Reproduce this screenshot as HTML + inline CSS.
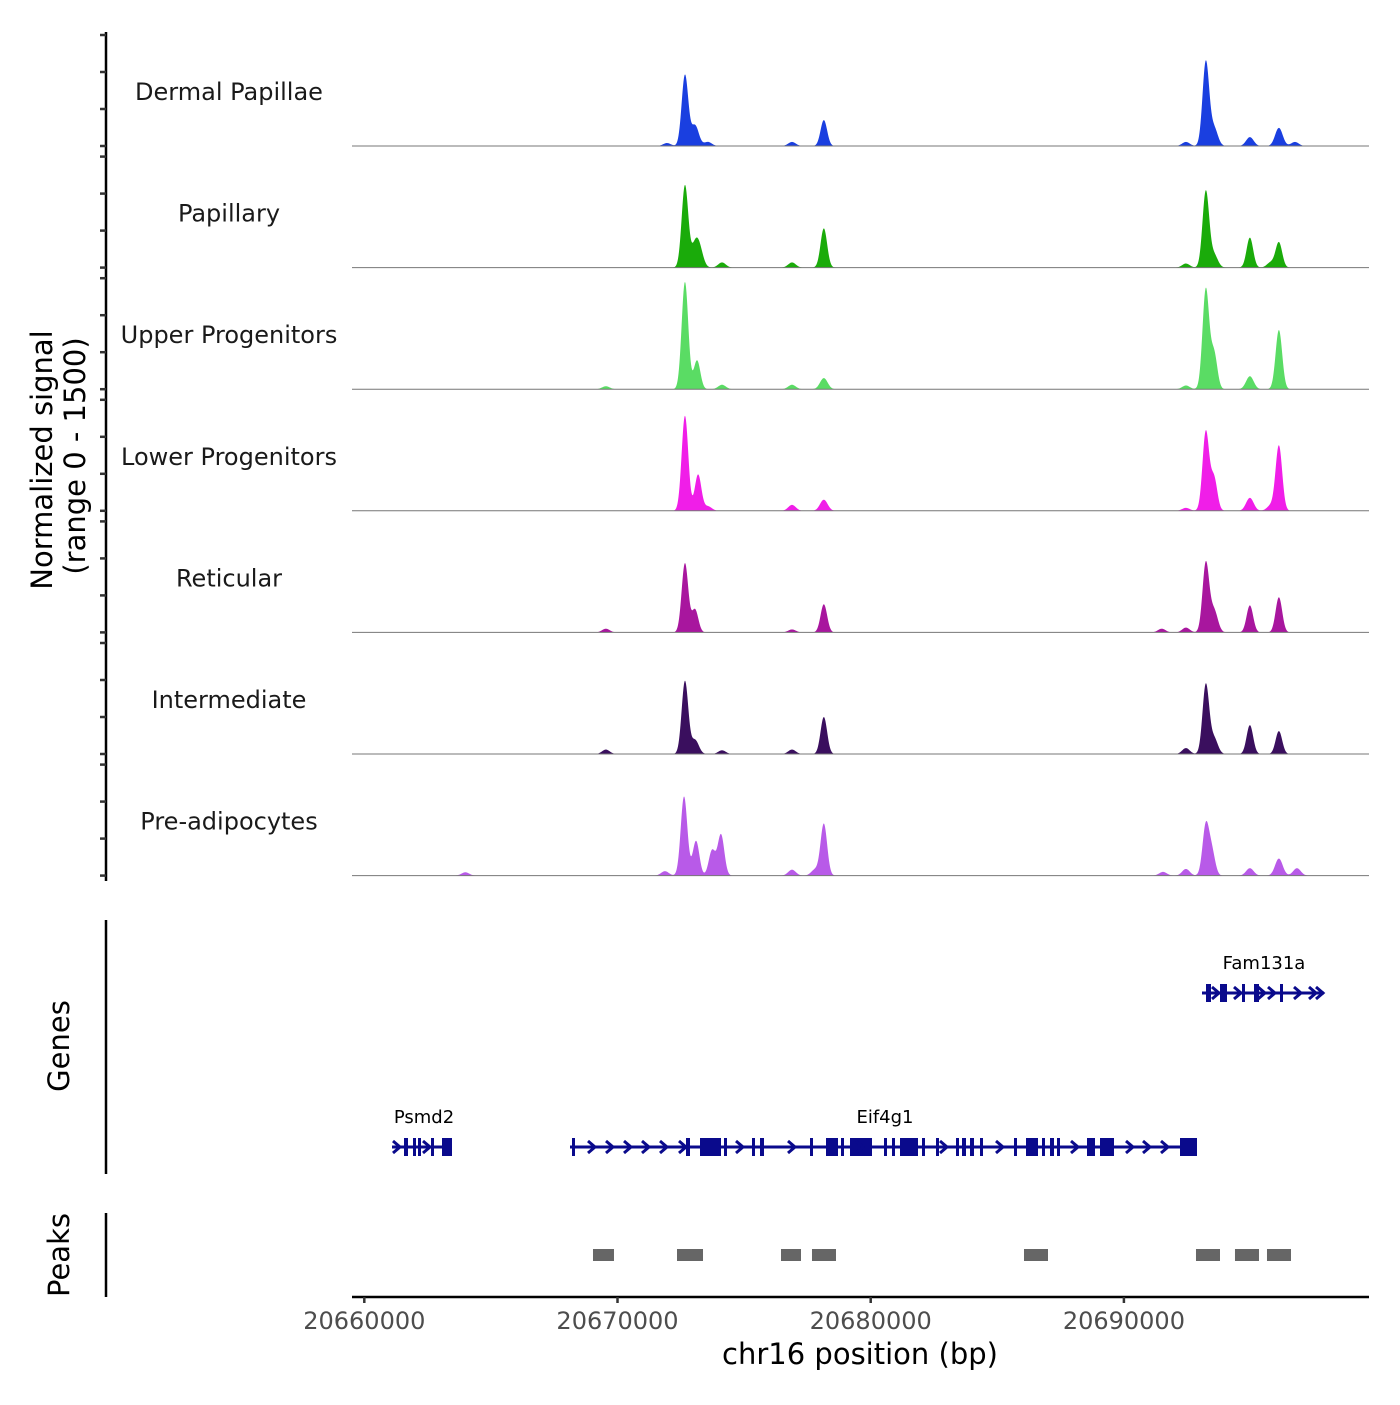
<!DOCTYPE html>
<html><head><meta charset="utf-8"><style>
body{margin:0;background:#fff;width:1400px;height:1400px;overflow:hidden}
svg text{font-family:"DejaVu Sans","Liberation Sans",sans-serif}
</style></head><body>
<svg id="chart" width="1400" height="1400" xmlns="http://www.w3.org/2000/svg"></svg>
<script>
const trackNames=["Dermal Papillae","Papillary","Upper Progenitors","Lower Progenitors","Reticular","Intermediate","Pre-adipocytes"];
const trackColors=["#1a3fe0","#1aab0a","#5adc64","#f01ee8","#a8169e","#3a0f5e","#b85ae8"];
// peak positions (bp) and heights (signal) per track
const pos0=[20671954,20672664,20673061,20673574,20676892,20678149,20692450,20693235,20693557,20694975,20696121,20696755];
const val0=[40,960,280,55,55,350,55,1135,245,120,245,55];
const pos1=[20672664,20673061,20673242,20674127,20676892,20678149,20692450,20693235,20693557,20694975,20695799,20696121];
const val1=[1110,270,215,70,70,530,55,1030,175,405,70,340];
const pos2=[20669541,20672664,20673141,20674127,20676892,20678149,20692450,20693235,20693557,20694975,20696121];
const val2=[40,1450,390,60,60,150,50,1350,490,175,800];
const pos3=[20672664,20673182,20673574,20676892,20678149,20692450,20693235,20693557,20694975,20695799,20696121];
const val3=[1285,490,60,80,150,40,1070,445,175,70,880];
const pos4=[20669541,20672664,20673061,20676892,20678149,20691495,20692450,20693235,20693557,20694975,20696121];
const val4=[50,935,310,40,380,50,65,935,300,365,475];
const pos5=[20669541,20672664,20673061,20674127,20676892,20678149,20692450,20693235,20693557,20694975,20696121];
const val5=[60,985,190,50,60,500,80,935,215,390,310];
const pos6=[20663989,20671874,20672628,20673101,20673735,20674087,20676892,20677797,20678149,20691545,20692450,20693235,20693477,20694975,20696121,20696835];
const val6=[45,60,1070,470,340,555,80,80,700,50,90,675,310,100,230,100];
const trackPos=[pos0,pos1,pos2,pos3,pos4,pos5,pos6];
const trackVal=[val0,val1,val2,val3,val4,val5,val6];
const xTicks=[20660000,20670000,20680000,20690000];
const peakStarts=[20669032,20672350,20676457,20677681,20686054,20692847,20694387,20695651];
const peakEnds=[20669861,20673377,20677247,20678629,20687002,20693795,20695335,20696599];

const svg=document.getElementById('chart');
const NS="http://www.w3.org/2000/svg";
const X0=352,X1=1369,BP0=20659514,BP1=20699680;
function x(bp){return X0+(bp-BP0)/(BP1-BP0)*(X1-X0);}
function mk(tag,attrs,parent){const e=document.createElementNS(NS,tag);for(const k in attrs)e.setAttribute(k,attrs[k]);(parent||svg).appendChild(e);return e;}
function txt(s,attrs){const t=mk('text',attrs);t.textContent=s;return t;}

let a=mk('line',{x1:106,y1:32,x2:106,y2:881,stroke:'#000','stroke-width':2.5});


for(let i=0;i<7;i++){
  const base=146+i*121.6;
  const y=v=>base-v/1500*111;
  for(let t=0;t<=1500;t+=500){
    const tk=mk('line',{x1:100,x2:106,y1:y(t),y2:y(t),stroke:'#333','stroke-width':2.5});
    
    
  }
  const lab=txt(trackNames[i],{x:229,y:base-46,'font-size':24,'text-anchor':'middle',fill:'#1a1a1a'});
  
  
  const P=trackPos[i],V=trackVal[i];
  let d=`M${X0},${base}`;
  for(let px=X0;px<=X1;px+=0.5){
    const bp=BP0+(px-X0)/(X1-X0)*(BP1-BP0);
    let s=0;
    for(let k=0;k<P.length;k++){const sig=V[k]>300?130:150;const z=(bp-P[k])/sig;s+=V[k]*Math.exp(-0.5*z*z);}
    d+=`L${px},${y(Math.min(s,1500)).toFixed(2)}`;
  }
  d+=`L${X1},${base}Z`;
  const ar=mk('path',{d:d,fill:trackColors[i]});
  
  
  const bl=mk('line',{x1:X0,x2:X1,y1:base,y2:base,stroke:'#777','stroke-width':1});
  
  
}
const yt=txt('Normalized signal',{transform:'translate(52,460) rotate(-90)','font-size':29,'text-anchor':'middle'});


const yt2=txt('(range 0 - 1500)',{transform:'translate(85,456) rotate(-90)','font-size':29,'text-anchor':'middle'});



const ga=mk('line',{x1:106,y1:920,x2:106,y2:1174,stroke:'#000','stroke-width':2.5});


const gt=txt('Genes',{transform:'translate(69,1046) rotate(-90)','font-size':29,'text-anchor':'middle'});


const C='#0a0a8c';
function gene(name,x1,x2,y,exons,chevs,lx){
  const g=mk('g',{});
  
  
  mk('line',{x1:x1,x2:x2,y1:y,y2:y,stroke:C,'stroke-width':3},g);
  exons.forEach(e=>mk('rect',{x:e[0],y:y-9,width:e[1],height:18,fill:C},g));
  chevs.forEach(cx=>mk('path',{d:`M${cx-4},${y-6}L${cx+3},${y}L${cx-4},${y+6}`,stroke:C,'stroke-width':3,fill:'none'},g));
  const t=mk('text',{x:lx,y:y-24,'font-size':18,'text-anchor':'middle'},g);t.textContent=name;
}
gene('Psmd2',392,452,1147,[[404,4],[413,3],[418,3],[431,3],[442,10]],[397,427],424);
gene('Eif4g1',570,1197,1147,[[572,3],[686,4],[700,16],[716,5],[724,3],[752,3],[760,4],[810,3],[826,12],[841,3],[850,22],[884,3],[892,3],[900,18],[922,3],[936,3],[956,3],[962,4],[970,4],[980,3],[1014,3],[1026,12],[1042,3],[1050,4],[1057,3],[1087,8],[1100,14],[1180,17]],[592,610,628,646,664,683,740,792,860,944,1000,1075,1130,1147,1165],885);
gene('Fam131a',1202,1324,993,[[1206,5],[1220,7],[1242,3],[1254,5],[1280,3]],[1216,1238,1262,1272,1298,1313,1320],1264);

const pa=mk('line',{x1:106,y1:1213,x2:106,y2:1297,stroke:'#000','stroke-width':2.5});


const pt=txt('Peaks',{transform:'translate(69,1255) rotate(-90)','font-size':29,'text-anchor':'middle'});


for(let i=0;i<peakStarts.length;i++){
  const r=mk('rect',{x:x(peakStarts[i]),y:1249,width:x(peakEnds[i])-x(peakStarts[i]),height:12,fill:'#666'});
  
  
}

const xa=mk('line',{x1:X0,x2:X1,y1:1297,y2:1297,stroke:'#000','stroke-width':2.5});


xTicks.forEach(t=>{
  const tk=mk('line',{x1:x(t),x2:x(t),y1:1297,y2:1303,stroke:'#333','stroke-width':2.5});
  
  
  const l=txt(String(t),{x:x(t),y:1329,'font-size':24,'text-anchor':'middle',fill:'#4d4d4d'});
  
  
});
const xt=txt('chr16 position (bp)',{x:860,y:1364,'font-size':29,'text-anchor':'middle'});


</script>
</body></html>
